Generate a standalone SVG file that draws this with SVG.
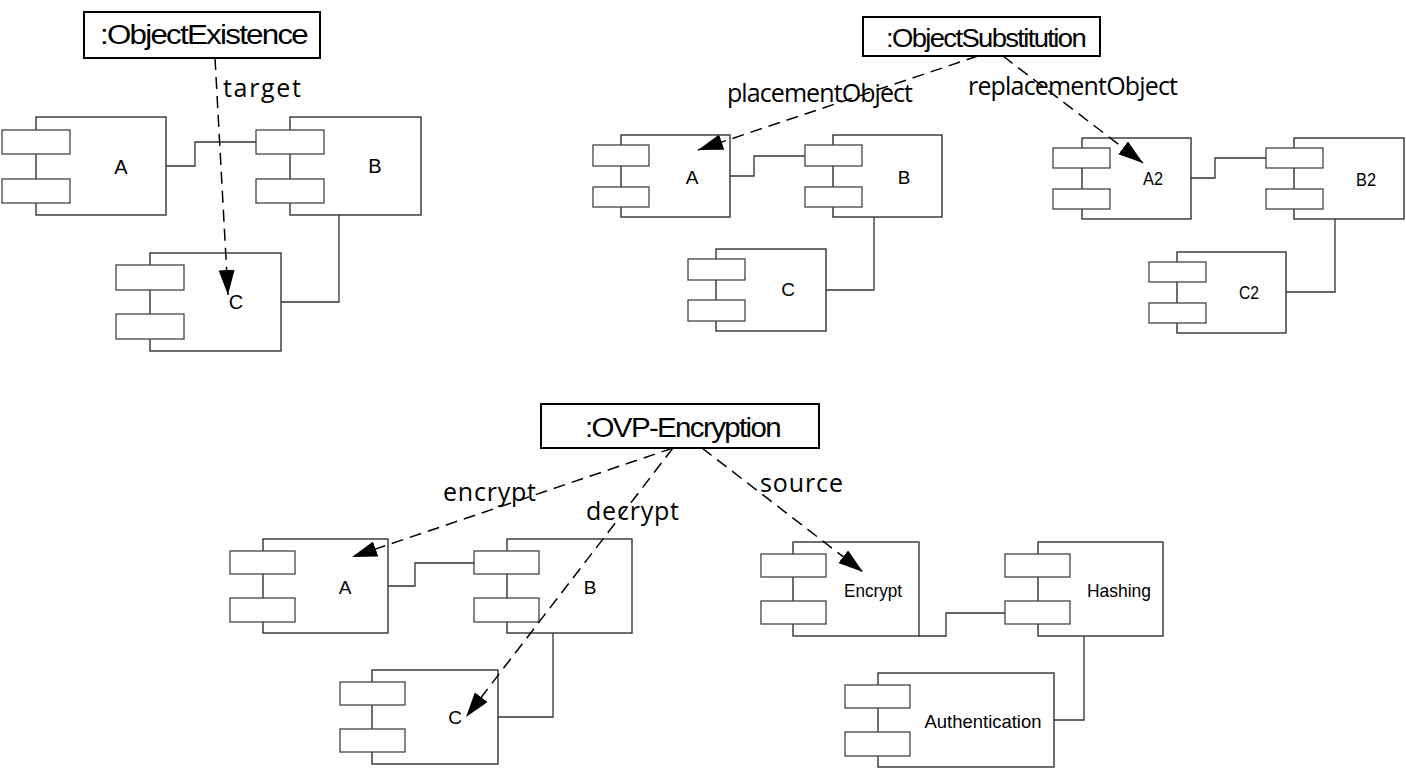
<svg xmlns="http://www.w3.org/2000/svg" width="1406" height="770" viewBox="0 0 1406 770">
<style>
.title{fill:#fff;stroke:#000;stroke-width:2}
.ttxt{font-family:"Liberation Sans",Arial,sans-serif;fill:#000;letter-spacing:-1.5px}
.body{fill:#fff;stroke:#222;stroke-width:1.3}
.port{fill:#fff;stroke:#444;stroke-width:1.3}
.lbl{font-family:"Liberation Sans",Arial,sans-serif;fill:#000;text-anchor:middle}
.conn{fill:none;stroke:#333;stroke-width:1.3}
.dep{fill:none;stroke:#000;stroke-width:1.5;stroke-dasharray:12 7}
.elbl{font-family:"Open Sans","DejaVu Sans",sans-serif;font-size:25px;fill:#000}
</style>
<defs>
<marker id="arr" markerUnits="userSpaceOnUse" markerWidth="26" markerHeight="18" refX="25" refY="8" orient="auto">
<path d="M0,0 L25,8 L0,16 z" fill="#000"/>
</marker>
</defs>
<rect width="1406" height="770" fill="#fff"/>

<!-- Top-left -->
<g id="objectExistence"><rect class="title" x="84" y="12" width="236" height="46"/><text class="ttxt" x="100" y="44" font-size="27" textLength="207" lengthAdjust="spacingAndGlyphs">:ObjectExistence</text></g>
<g id="tl-A"><rect class="body" x="36" y="117" width="130" height="98"/><rect class="port" x="2" y="130" width="68" height="24"/><rect class="port" x="2" y="179" width="68" height="24"/><text class="lbl" x="121" y="174" font-size="20">A</text></g>
<g id="tl-B"><rect class="body" x="290" y="117" width="131" height="98"/><rect class="port" x="256" y="130" width="68" height="24"/><rect class="port" x="256" y="179" width="68" height="24"/><text class="lbl" x="375" y="173" font-size="20">B</text></g>
<g id="tl-C"><rect class="body" x="150" y="253" width="131" height="98"/><rect class="port" x="116" y="265" width="68" height="25"/><rect class="port" x="116" y="314" width="68" height="25"/><text class="lbl" x="236" y="309" font-size="20">C</text></g>

<!-- Top-middle / right -->
<g id="objectSubstitution"><rect class="title" x="863" y="17" width="237" height="39"/><text class="ttxt" x="886" y="47" font-size="25" textLength="199" lengthAdjust="spacingAndGlyphs">:ObjectSubstitution</text></g>
<g id="tm-A"><rect class="body" x="621" y="135" width="109" height="82"/><rect class="port" x="593" y="145" width="56" height="21"/><rect class="port" x="593" y="187" width="56" height="20"/><text class="lbl" x="692" y="184" font-size="19">A</text></g>
<g id="tm-B"><rect class="body" x="833" y="135" width="109" height="82"/><rect class="port" x="805" y="145" width="57" height="21"/><rect class="port" x="805" y="187" width="57" height="20"/><text class="lbl" x="904" y="184" font-size="19">B</text></g>
<g id="tm-C"><rect class="body" x="716" y="249" width="110" height="82"/><rect class="port" x="688" y="259" width="57" height="21"/><rect class="port" x="688" y="300" width="57" height="21"/><text class="lbl" x="788" y="296" font-size="19">C</text></g>
<g id="tr-A2"><rect class="body" x="1082" y="138" width="109" height="81"/><rect class="port" x="1053" y="148" width="57" height="20"/><rect class="port" x="1053" y="189" width="57" height="20"/><text class="lbl" x="1153" y="185" font-size="19" textLength="20" lengthAdjust="spacingAndGlyphs">A2</text></g>
<g id="tr-B2"><rect class="body" x="1294" y="138" width="110" height="81"/><rect class="port" x="1266" y="148" width="57" height="20"/><rect class="port" x="1266" y="189" width="57" height="20"/><text class="lbl" x="1366" y="186" font-size="19" textLength="20" lengthAdjust="spacingAndGlyphs">B2</text></g>
<g id="tr-C2"><rect class="body" x="1177" y="252" width="109" height="81"/><rect class="port" x="1149" y="262" width="57" height="20"/><rect class="port" x="1149" y="303" width="57" height="20"/><text class="lbl" x="1249" y="299" font-size="19" textLength="20" lengthAdjust="spacingAndGlyphs">C2</text></g>

<!-- Bottom -->
<g id="ovpEncryption"><rect class="title" x="541" y="404" width="278" height="44"/><text class="ttxt" x="585" y="437" font-size="27" textLength="195" lengthAdjust="spacingAndGlyphs">:OVP-Encryption</text></g>
<g id="bl-A"><rect class="body" x="263" y="539" width="125" height="94"/><rect class="port" x="230" y="551" width="65" height="23"/><rect class="port" x="230" y="598" width="65" height="24"/><text class="lbl" x="345" y="594" font-size="19">A</text></g>
<g id="bl-B"><rect class="body" x="507" y="539" width="125" height="94"/><rect class="port" x="474" y="551" width="65" height="23"/><rect class="port" x="474" y="598" width="65" height="24"/><text class="lbl" x="590" y="594" font-size="19">B</text></g>
<g id="bl-C"><rect class="body" x="372" y="670" width="126" height="94"/><rect class="port" x="340" y="682" width="65" height="23"/><rect class="port" x="340" y="729" width="65" height="23"/><text class="lbl" x="455" y="724" font-size="19">C</text></g>
<g id="br-Encrypt"><rect class="body" x="793" y="542" width="126" height="94"/><rect class="port" x="761" y="554" width="65" height="23"/><rect class="port" x="761" y="601" width="65" height="23"/><text class="lbl" x="873" y="597" font-size="19" textLength="58" lengthAdjust="spacingAndGlyphs">Encrypt</text></g>
<g id="br-Hashing"><rect class="body" x="1038" y="542" width="125" height="94"/><rect class="port" x="1005" y="554" width="65" height="23"/><rect class="port" x="1005" y="601" width="65" height="23"/><text class="lbl" x="1119" y="597" font-size="19" textLength="64" lengthAdjust="spacingAndGlyphs">Hashing</text></g>
<g id="br-Authentication"><rect class="body" x="878" y="673" width="176" height="94"/><rect class="port" x="845" y="685" width="65" height="23"/><rect class="port" x="845" y="732" width="65" height="24"/><text class="lbl" x="983" y="728" font-size="19" textLength="117" lengthAdjust="spacingAndGlyphs">Authentication</text></g>

<g id="connectors">
<path class="conn" d="M166,166 H195 V142 H256"/>
<path class="conn" d="M339,215 V302 H281"/>
<path class="conn" d="M730,176 H754 V156 H805"/>
<path class="conn" d="M874,217 V290 H826"/>
<path class="conn" d="M1191,178 H1215 V158 H1266"/>
<path class="conn" d="M1335,219 V292 H1286"/>
<path class="conn" d="M388,586 H415 V563 H474"/>
<path class="conn" d="M553,633 V717 H498"/>
<path class="conn" d="M919,636 H946 V613 H1005"/>
<path class="conn" d="M1084,636 V720 H1054"/>
<path class="dep" d="M215,58 L228,295" marker-end="url(#arr)"/>
<path class="dep" d="M978,56 L698,150" marker-end="url(#arr)"/>
<path class="dep" d="M1003,56 L1143,163" marker-end="url(#arr)"/>
<path class="dep" d="M673,448 L352,557" marker-end="url(#arr)"/>
<path class="dep" d="M673,448 L466,717" marker-end="url(#arr)"/>
<path class="dep" d="M702,448 L863,572" marker-end="url(#arr)"/>
<text class="elbl" x="223" y="97" textLength="78" lengthAdjust="spacing">target</text>
<text class="elbl" x="727" y="102" textLength="186" lengthAdjust="spacing">placementObject</text>
<text class="elbl" x="968" y="95" textLength="210" lengthAdjust="spacing">replacementObject</text>
<text class="elbl" x="443" y="501" textLength="93" lengthAdjust="spacing">encrypt</text>
<text class="elbl" x="586" y="520" textLength="93" lengthAdjust="spacing">decrypt</text>
<text class="elbl" x="760" y="492" textLength="83" lengthAdjust="spacing">source</text>
</g>
</svg>
